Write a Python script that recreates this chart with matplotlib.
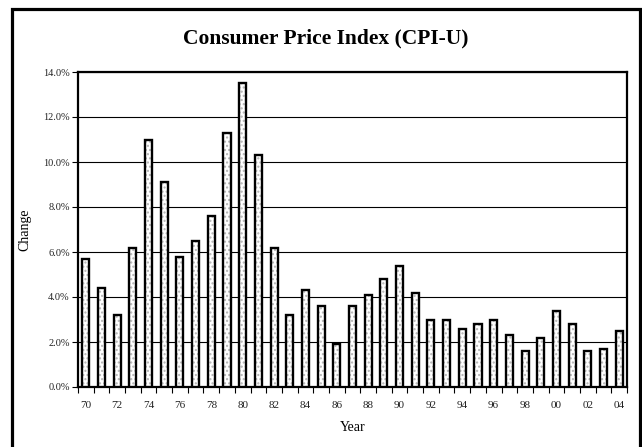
import numpy as np
import matplotlib
matplotlib.use('Agg')
import matplotlib.pyplot as plt
from matplotlib.patches import Rectangle
from matplotlib.ticker import FixedLocator, FuncFormatter

plt.rcParams['font.family'] = ['Liberation Serif', 'DejaVu Serif']

# CPI-U annual change
years = list(range(1970, 2005))
change = [5.7, 4.4, 3.2, 6.2, 11.0, 9.1, 5.8, 6.5, 7.6, 11.3,
          13.5, 10.3, 6.2, 3.2, 4.3, 3.6, 1.9, 3.6, 4.1, 4.8,
          5.4, 4.2, 3.0, 3.0, 2.6, 2.8, 3.0, 2.3, 1.6, 2.2,
          3.4, 2.8, 1.6, 1.7, 2.5]
year_labels = ['%02d' % (y % 100) for y in years]
y_ticks = [0, 2, 4, 6, 8, 10, 12, 14]

fig = plt.figure(figsize=(6.42, 4.47), dpi=100)
ax = fig.add_axes([78 / 642, 1 - 387 / 447, (627 - 78) / 642, (387 - 72) / 447])

x = np.arange(len(years))
# dotted fill, then black outline on top
ax.bar(x, change, width=0.45, color='white', hatch='....', edgecolor='#b4b4b4', linewidth=0, zorder=3)
ax.bar(x, change, width=0.45, fill=False, edgecolor='black', linewidth=1.7, zorder=4)

ax.set_xlim(-0.5, len(years) - 0.5)
ax.set_ylim(0, 14)
ax.set_yticks(y_ticks)
ax.yaxis.set_major_formatter(FuncFormatter(lambda v, p: '%.1f%%' % v))
ax.grid(axis='y', color='black', linewidth=0.8, zorder=1)

# labels every other year, tick marks between categories
ax.set_xticks(x[::2])
ax.set_xticklabels(year_labels[::2])
ax.xaxis.set_minor_locator(FixedLocator(np.arange(-0.5, len(years), 1)))
ax.tick_params(axis='x', which='major', length=0, labelsize=8, pad=10, labelcolor='#222222')
ax.tick_params(axis='x', which='minor', length=4, width=0.8, direction='out')
ax.tick_params(axis='y', length=4, width=0.8, labelsize=7.5, pad=2, labelcolor='#222222')

for s in ax.spines.values():
    s.set_linewidth(1.6)

ax.set_xlabel('Year', fontsize=10, labelpad=8)
ax.set_ylabel('Change', fontsize=10, labelpad=8)

fig.text(0.5 * (12 + 640) / 642, 1 - 38 / 447, 'Consumer Price Index (CPI-U)',
         fontsize=15.5, fontweight='bold', ha='center', va='center')

# outer chart border (bottom edge runs off the image)
fig.patches.append(Rectangle((12 / 642, -0.05), (640 - 12) / 642, 1.05 - 9 / 447,
                             transform=fig.transFigure, fill=False,
                             edgecolor='black', linewidth=2.3))

fig.savefig('out.png', dpi=100)
